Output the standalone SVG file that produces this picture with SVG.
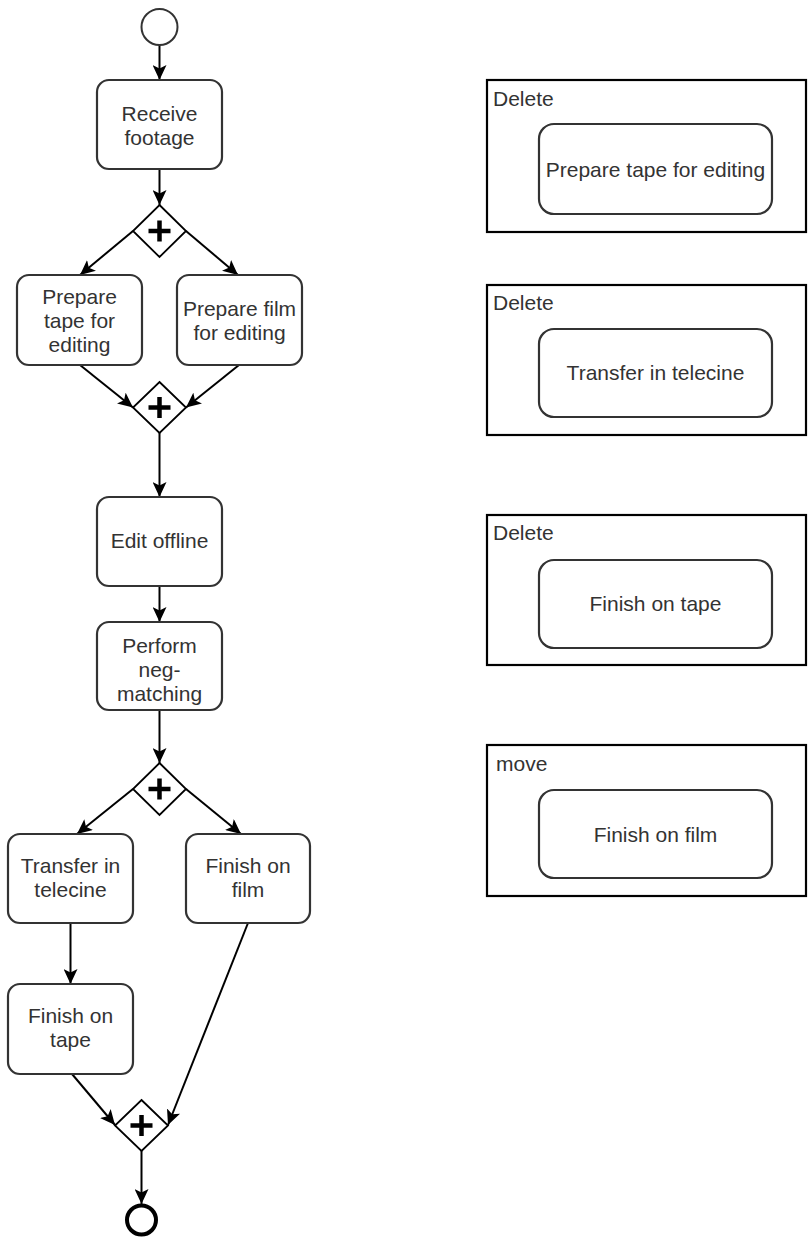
<svg xmlns="http://www.w3.org/2000/svg" width="809" height="1243" viewBox="0 0 809 1243">
<defs>
<marker id="arr" markerUnits="userSpaceOnUse" markerWidth="16" markerHeight="14" viewBox="0 0 16 14" refX="15" refY="7" orient="auto">
<path d="M0,0 L15,7 L0,14 L3.5,7 z" fill="#000"/>
</marker>
<style>
.task{fill:#fff;stroke:#333;stroke-width:2.2}
.frame{fill:#fff;stroke:#000;stroke-width:2.2}
.gw{fill:#fff;stroke:#000;stroke-width:1.8}
.plus{stroke:#000;stroke-width:4.5;fill:none}
.edge{stroke:#000;stroke-width:2;fill:none;marker-end:url(#arr)}
text{font-family:"Liberation Sans",Arial,sans-serif;font-size:21px;fill:#333}
.c{text-anchor:middle}
</style>
</defs>
<rect width="809" height="1243" fill="#fff"/>

<g id="connectors">
<line class="edge" x1="159.5" y1="45" x2="159.5" y2="80"/>
<line class="edge" x1="159.5" y1="169" x2="159.5" y2="205"/>
<line class="edge" x1="133" y1="231" x2="80" y2="275"/>
<line class="edge" x1="186" y1="231" x2="238" y2="275"/>
<line class="edge" x1="80" y1="365" x2="133" y2="407.5"/>
<line class="edge" x1="239" y1="365" x2="186" y2="407.5"/>
<line class="edge" x1="159.5" y1="433" x2="159.5" y2="497"/>
<line class="edge" x1="159.5" y1="586" x2="159.5" y2="622"/>
<line class="edge" x1="159.5" y1="710" x2="159.5" y2="763"/>
<line class="edge" x1="133" y1="789" x2="77" y2="834"/>
<line class="edge" x1="186" y1="789" x2="241" y2="834"/>
<line class="edge" x1="70.5" y1="923" x2="70.5" y2="984"/>
<line class="edge" x1="72" y1="1074" x2="115" y2="1125"/>
<line class="edge" x1="248" y1="923" x2="168" y2="1125"/>
<line class="edge" x1="141.5" y1="1151" x2="141.5" y2="1204"/>
</g>

<g id="start"><circle cx="159.5" cy="27" r="18" fill="#fff" stroke="#333" stroke-width="2"/></g>

<g id="receive"><rect class="task" x="97" y="80" width="125" height="89" rx="12"/>
<text class="c" x="159.5" y="121">Receive</text><text class="c" x="159.5" y="145">footage</text></g>

<g id="gw1"><path class="gw" d="M159.5,205 L186,231 L159.5,257 L133,231 z"/><path class="plus" d="M148.5,231 H170.5 M159.5,220.5 V241.5"/></g>

<g id="prepTape"><rect class="task" x="17" y="275" width="125" height="90" rx="12"/>
<text class="c" x="79.5" y="304">Prepare</text><text class="c" x="79.5" y="328">tape for</text><text class="c" x="79.5" y="352">editing</text></g>

<g id="prepFilm"><rect class="task" x="177" y="275" width="125" height="90" rx="12"/>
<text class="c" x="239.5" y="316">Prepare film</text><text class="c" x="239.5" y="340">for editing</text></g>

<g id="gw2"><path class="gw" d="M159.5,382 L186,407.5 L159.5,433 L133,407.5 z"/><path class="plus" d="M148.5,407.5 H170.5 M159.5,397 V418"/></g>

<g id="edit"><rect class="task" x="97" y="497" width="125" height="89" rx="12"/>
<text class="c" x="159.5" y="548">Edit offline</text></g>

<g id="neg"><rect class="task" x="97" y="622" width="125" height="88" rx="12"/>
<text class="c" x="159.5" y="653">Perform</text><text class="c" x="159.5" y="677">neg-</text><text class="c" x="159.5" y="701">matching</text></g>

<g id="gw3"><path class="gw" d="M159.5,763 L186,789 L159.5,815 L133,789 z"/><path class="plus" d="M148.5,789 H170.5 M159.5,778.5 V799.5"/></g>

<g id="telecine"><rect class="task" x="8" y="834" width="125" height="89" rx="12"/>
<text class="c" x="70.5" y="873">Transfer in</text><text class="c" x="70.5" y="897">telecine</text></g>

<g id="finishFilm"><rect class="task" x="186" y="834" width="124" height="89" rx="12"/>
<text class="c" x="248" y="873">Finish on</text><text class="c" x="248" y="897">film</text></g>

<g id="finishTape"><rect class="task" x="8" y="984" width="125" height="90" rx="12"/>
<text class="c" x="70.5" y="1023">Finish on</text><text class="c" x="70.5" y="1047">tape</text></g>

<g id="gw4"><path class="gw" d="M141.5,1100 L168,1125.5 L141.5,1151 L115,1125.5 z"/><path class="plus" d="M130.5,1125.5 H152.5 M141.5,1115 V1136"/></g>

<g id="end"><circle cx="141.5" cy="1220" r="14.5" fill="#fff" stroke="#000" stroke-width="4"/></g>

<g id="del1"><rect class="frame" x="487" y="80" width="319" height="152"/>
<text x="493" y="106">Delete</text>
<rect class="task" x="539" y="124" width="233" height="90" rx="15"/>
<text class="c" x="655.5" y="177">Prepare tape for editing</text></g>

<g id="del2"><rect class="frame" x="487" y="285" width="319" height="150"/>
<text x="493" y="310">Delete</text>
<rect class="task" x="539" y="329" width="233" height="88" rx="15"/>
<text class="c" x="655.5" y="380">Transfer in telecine</text></g>

<g id="del3"><rect class="frame" x="487" y="515" width="319" height="150"/>
<text x="493" y="540">Delete</text>
<rect class="task" x="539" y="560" width="233" height="88" rx="15"/>
<text class="c" x="655.5" y="611">Finish on tape</text></g>

<g id="move"><rect class="frame" x="487" y="745" width="319" height="151"/>
<text x="496" y="771">move</text>
<rect class="task" x="539" y="790" width="233" height="88" rx="15"/>
<text class="c" x="655.5" y="842">Finish on film</text></g>
</svg>
